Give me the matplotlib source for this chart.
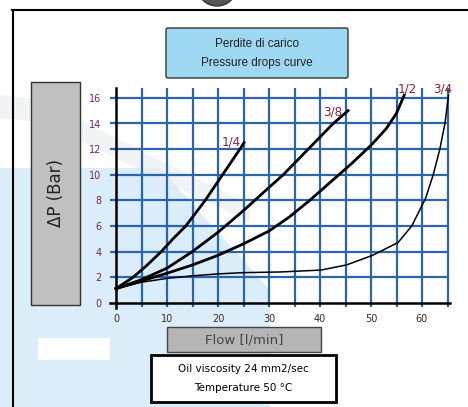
import matplotlib
matplotlib.use("Agg")
import matplotlib.pyplot as plt
from matplotlib.patches import Rectangle, Polygon, Ellipse, FancyBboxPatch

# Curve data (flow l/min, pressure drop bar)
x_14 = [0, 3.4, 6, 8.9, 11.2, 13.7, 15.6, 17.5, 20.9, 24.3, 25.1]
y_14 = [1.1, 2.0, 2.9, 4.0, 5.0, 6.0, 7.0, 8.0, 10.0, 12.0, 12.5]

x_38 = [0, 5, 10, 15, 20, 25, 30, 32.8, 37.7, 42.6, 45.5]
y_38 = [1.1, 1.8, 2.7, 4.0, 5.5, 7.2, 9.0, 10.0, 12.0, 14.0, 15.0]

x_12 = [0, 5, 10, 15, 20, 25, 30, 34, 38, 42, 46, 50, 53, 55, 56.5]
y_12 = [1.1, 1.7, 2.3, 2.95, 3.7, 4.6, 5.6, 6.7, 8.0, 9.4, 10.8, 12.3, 13.6, 14.8, 16.2]

x_34 = [0, 5, 10, 15, 20, 25, 32.2, 40.2, 45.2, 50.3, 55.3, 58, 60.7, 62.2, 63.5, 64.5, 65.2]
y_34 = [1.1, 1.6, 1.9, 2.1, 2.25, 2.35, 2.4, 2.55, 2.95, 3.7, 4.7, 6.0, 8.15, 10.0, 12.0, 14.0, 16.2]

size_labels = ["1/4", "3/8", "1/2", "3/4"]
label_pos = [(22.6, 12.55), (42.5, 14.9), (57.2, 16.7), (64.0, 16.7)]

x_ticks = [0, 10, 20, 30, 40, 50, 60]
y_ticks = [0, 2, 4, 6, 8, 10, 12, 14, 16]
x_grid = [5, 10, 15, 20, 25, 30, 35, 40, 45, 50, 55, 60, 65]
y_grid = [2, 4, 6, 8, 10, 12, 14, 16]

W, H = 468, 407
fig = plt.figure(figsize=(W / 100, H / 100), dpi=100)

# background layer in pixel coordinates
bg = fig.add_axes([0, 0, 1, 1])
bg.set_xlim(0, W)
bg.set_ylim(H, 0)
bg.axis("off")

# faint watermark
bg.add_patch(Polygon([(0, 168), (160, 168), (270, 290), (270, H), (0, H)],
                     facecolor="#dbedf8", edgecolor="none"))
bg.add_patch(Polygon([(0, 95), (40, 100), (250, 205), (250, 222), (40, 122), (0, 118)],
                     facecolor="#eceef0", edgecolor="none", alpha=0.7))
bg.add_patch(Rectangle((38, 338), 72, 22, facecolor="white", edgecolor="none"))

bg.add_patch(Ellipse((217, -12), 38, 36, facecolor="#555555", edgecolor="#333333"))
bg.plot([12, W], [10, 10], color="black", lw=1.5)
bg.plot([13, 13], [10, H], color="black", lw=1.5)

# title box
bg.add_patch(FancyBboxPatch((166, 28), 182, 50, boxstyle="round,pad=0,rounding_size=2",
                            facecolor="#9fd8f2", edgecolor="#333333", lw=1))
bg.text(257, 44, "Perdite di carico", ha="center", va="center",
        fontsize=8.5, family="Liberation Sans", color="#222222")
bg.text(257, 63, "Pressure drops curve", ha="center", va="center",
        fontsize=8.5, family="Liberation Sans", color="#222222")

# y label box
bg.add_patch(Rectangle((31, 82), 49, 223, facecolor="#c0c0c0", edgecolor="#333333", lw=1))
bg.text(56, 193, "ΔP (Bar)", rotation=90, ha="center", va="center",
        fontsize=12, color="#222222")

# x label box
bg.add_patch(Rectangle((167, 327), 154, 25, facecolor="#b5b5b5", edgecolor="#444444", lw=1))
bg.text(244, 340, "Flow [l/min]", ha="center", va="center",
        fontsize=9.5, color="#444444")

# info box
bg.add_patch(Rectangle((151, 355), 185, 47, facecolor="white", edgecolor="black", lw=2))
bg.text(243, 369, "Oil viscosity 24 mm2/sec", ha="center", va="center",
        fontsize=7.5, color="black")
bg.text(243, 388, "Temperature 50 °C", ha="center", va="center",
        fontsize=7.5, color="black")

# main chart
x0, x1, y0, y1 = -2, 67, -0.8, 17
px_x = lambda v: 116 + v * 5.1
px_y = lambda v: 302.7 - v * 12.8
left, right = px_x(x0), px_x(x1)
bottom, top = px_y(y0), px_y(y1)
ax = fig.add_axes([left / W, (H - bottom) / H, (right - left) / W, (bottom - top) / H])
ax.set_facecolor("none")
ax.set_xlim(x0, x1)
ax.set_ylim(y0, y1)
for s in ax.spines.values():
    s.set_visible(False)

grid_c = "#2b66ad"
ax.vlines(x_grid, -0.35, 16.8, color=grid_c, lw=1.6, zorder=1)
ax.hlines(y_grid, -1.2, 65.3, color=grid_c, lw=1.6, zorder=1)
ax.plot([0, 0], [-0.4, 16.8], color="black", lw=1.8, zorder=2)
ax.plot([-1.2, 65.5], [0, 0], color="black", lw=1.8, zorder=2)

ax.plot(x_14, y_14, color="black", lw=2.0, zorder=3)
ax.plot(x_38, y_38, color="black", lw=2.0, zorder=3)
ax.plot(x_12, y_12, color="black", lw=2.0, zorder=3)
ax.plot(x_34, y_34, color="black", lw=1.1, zorder=3)

for lab, (lx, ly) in zip(size_labels, label_pos):
    ax.text(lx, ly, lab, ha="center", va="center", fontsize=9.5,
            color="#8b2030", fontstretch="condensed", zorder=4)

ax.set_xticks(x_ticks)
ax.set_xticklabels([str(v) for v in x_ticks], fontsize=7, color="#3a2a2a")
ax.set_yticks(y_ticks)
ax.set_yticklabels([str(v) for v in y_ticks], fontsize=7, color="#6e2470")
ax.tick_params(axis="x", length=0, pad=1)
ax.tick_params(axis="y", length=0, pad=3)

fig.savefig("out.png", dpi=100)
